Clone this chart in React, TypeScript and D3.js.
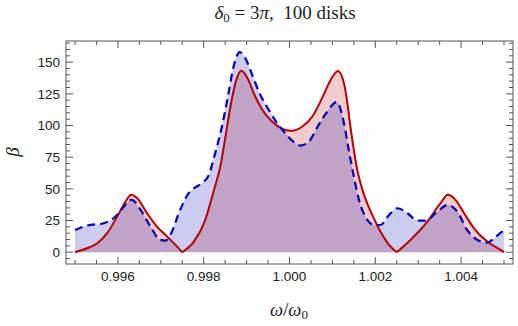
import { useEffect, useRef } from 'react'
import * as d3 from 'd3'

// solid red curve, split at the cusps where it touches zero
const redLeft: [number, number][] = [
  [0.995, 0], [0.99528, 3.1], [0.99552, 7.1], [0.99575, 15], [0.99598, 28], [0.99618, 40],
  [0.99631, 45.3], [0.99645, 42.6], [0.99668, 30.8], [0.99691, 20.2], [0.99715, 12.3], [0.99734, 5.8], [0.9975, 0],
]
const redMid: [number, number][] = [
  [0.9975, 0], [0.99777, 8.4], [0.99802, 24], [0.99823, 48], [0.99839, 68], [0.99853, 96],
  [0.99864, 118], [0.99876, 136], [0.99888, 143.2], [0.99902, 137.4], [0.99918, 124.5],
  [0.99937, 112.3], [0.99958, 103.5], [0.99985, 97.2], [1.00006, 95.8],
  [1.0003, 99.2], [1.00053, 107], [1.00076, 121.6], [1.00096, 136], [1.00113, 143.1],
  [1.00127, 133.4], [1.00135, 117.6], [1.00142, 99.2], [1.0015, 80.8], [1.00158, 65],
  [1.0017, 49.2], [1.00181, 38.7], [1.00197, 26.5], [1.00212, 16.3], [1.00232, 5.8], [1.0025, 0],
]
const redRight: [number, number][] = [
  [1.0025, 0], [1.00282, 9.7], [1.00321, 24], [1.00352, 38.7], [1.00369, 45.3], [1.00387, 41.3],
  [1.00407, 30.8], [1.0043, 18.9], [1.00461, 8.4], [1.00492, 1.8], [1.005, 0],
]
const redSegments = [redLeft, redMid, redRight]

// dashed blue curve
const bluePts: [number, number][] = [
  [0.995, 17.6], [0.99528, 21], [0.99567, 22.9], [0.9959, 26.8], [0.99614, 36], [0.99625, 40.7],
  [0.99632, 41.3], [0.99653, 33.4], [0.99676, 20.2], [0.99699, 9.7], [0.99711, 9.2], [0.99726, 16.3],
  [0.99742, 30.8], [0.99765, 46.6], [0.99777, 50.5], [0.99796, 54.5], [0.99812, 61], [0.99825, 76],
  [0.99843, 100], [0.99857, 124], [0.9987, 147], [0.99884, 157.9], [0.99897, 153.2], [0.99913, 140],
  [0.99932, 124.2], [0.99947, 115], [0.99967, 104], [0.9999, 94], [1.00008, 87.5],
  [1.00026, 84.2], [1.00045, 87.3], [1.00068, 100.5], [1.00086, 110], [1.0011, 118.5], [1.00127, 101.8],
  [1.00138, 80.8], [1.0015, 59.7], [1.00162, 41.3], [1.00177, 28], [1.00197, 21.5], [1.00212, 21.5],
  [1.00232, 29.4], [1.00251, 34.7], [1.00275, 30.8], [1.00298, 25], [1.00317, 25], [1.00345, 32.1],
  [1.00369, 37.3], [1.00391, 32.1], [1.00414, 17.6], [1.00438, 9.7], [1.00461, 7.6], [1.00481, 12.3],
  [1.005, 17.6],
]

const xMajor = [0.996, 0.998, 1.0, 1.002, 1.004]
const yMajor = [0, 25, 50, 75, 100, 125, 150]

export default function App() {
  const svgRef = useRef<SVGSVGElement>(null)

  useEffect(() => {
    const width = 518
    const height = 326
    const left = 66, right = 513, top = 41, bottom = 264

    const svg = d3.select(svgRef.current)
    svg.selectAll('*').remove()
    svg.attr('width', width).attr('height', height)

    const x = d3.scaleLinear().domain([0.99479, 1.00521]).range([left, right])
    const y = d3.scaleLinear().domain([-9.3, 166.7]).range([bottom, top])

    const line = d3.line<[number, number]>().x(d => x(d[0])).y(d => y(d[1])).curve(d3.curveMonotoneX)
    const area = d3.area<[number, number]>().x(d => x(d[0])).y0(y(0)).y1(d => y(d[1])).curve(d3.curveMonotoneX)

    const red = '#b40000'
    const blue = '#0000b4'

    // fills
    redSegments.forEach(seg => {
      svg.append('path').attr('d', area(seg)).attr('fill', red).attr('fill-opacity', 0.2)
    })
    svg.append('path').attr('d', area(bluePts)).attr('fill', blue).attr('fill-opacity', 0.2)

    // lines
    redSegments.forEach(seg => {
      svg.append('path').attr('d', line(seg)).attr('fill', 'none').attr('stroke', red)
        .attr('stroke-width', 2).attr('stroke-linejoin', 'round')
    })
    svg.append('path').attr('d', line(bluePts)).attr('fill', 'none').attr('stroke', blue)
      .attr('stroke-width', 2.2).attr('stroke-dasharray', '8,5')

    // frame
    const axisColor = '#555'
    svg.append('rect')
      .attr('x', left).attr('y', top).attr('width', right - left).attr('height', bottom - top)
      .attr('fill', 'none').attr('stroke', axisColor).attr('stroke-width', 1)

    const xMinor = d3.range(0, 21).map(i => 0.995 + i * 0.0005)
    xMinor.forEach(v => {
      const isMajor = xMajor.some(m => Math.abs(m - v) < 1e-7)
      const len = isMajor ? 7 : 4
      svg.append('line').attr('x1', x(v)).attr('x2', x(v)).attr('y1', bottom).attr('y2', bottom - len)
        .attr('stroke', axisColor)
      svg.append('line').attr('x1', x(v)).attr('x2', x(v)).attr('y1', top).attr('y2', top + len)
        .attr('stroke', axisColor)
    })
    const yMinor = d3.range(-1, 34).map(i => i * 5)
    yMinor.forEach(v => {
      const isMajor = v % 25 === 0
      const len = isMajor ? 7 : 4
      svg.append('line').attr('y1', y(v)).attr('y2', y(v)).attr('x1', left).attr('x2', left + len)
        .attr('stroke', axisColor)
      svg.append('line').attr('y1', y(v)).attr('y2', y(v)).attr('x1', right).attr('x2', right - len)
        .attr('stroke', axisColor)
    })

    const tickFont = 'Liberation Sans, Arial, sans-serif'
    xMajor.forEach(v => {
      svg.append('text').attr('x', x(v)).attr('y', 281).attr('text-anchor', 'middle')
        .attr('font-family', tickFont).attr('font-size', 13.5).attr('fill', '#222')
        .text(d3.format('.3f')(v))
    })
    yMajor.forEach(v => {
      svg.append('text').attr('x', 60).attr('y', y(v)).attr('dy', '0.35em').attr('text-anchor', 'end')
        .attr('font-family', tickFont).attr('font-size', 13.5).attr('fill', '#222')
        .text(v)
    })

    const serif = 'Liberation Serif, Times New Roman, serif'
    const title = svg.append('text').attr('x', 285).attr('y', 19).attr('text-anchor', 'middle')
      .attr('font-family', serif).attr('font-size', 19).attr('fill', '#222')
    title.append('tspan').attr('font-style', 'italic').text('δ')
    title.append('tspan').attr('font-size', 13).attr('dy', 3).text('0')
    title.append('tspan').attr('dy', -3).text(' = 3')
    title.append('tspan').attr('font-style', 'italic').text('π')
    title.append('tspan').text(',\u00a0\u00a0100 disks')

    const xl = svg.append('text').attr('x', 289).attr('y', 316).attr('text-anchor', 'middle')
      .attr('font-family', serif).attr('font-size', 18.5).attr('fill', '#222')
    xl.append('tspan').attr('font-style', 'italic').text('ω')
    xl.append('tspan').text('/')
    xl.append('tspan').attr('font-style', 'italic').text('ω')
    xl.append('tspan').attr('font-size', 13).attr('dy', 3).text('0')

    svg.append('text').attr('transform', 'translate(19,152) rotate(-90)').attr('text-anchor', 'middle')
      .attr('font-family', serif).attr('font-style', 'italic').attr('font-size', 19).attr('fill', '#222')
      .text('β')
  }, [])

  return <svg ref={svgRef} style={{ position: 'absolute', left: 0, top: 0 }} />
}
